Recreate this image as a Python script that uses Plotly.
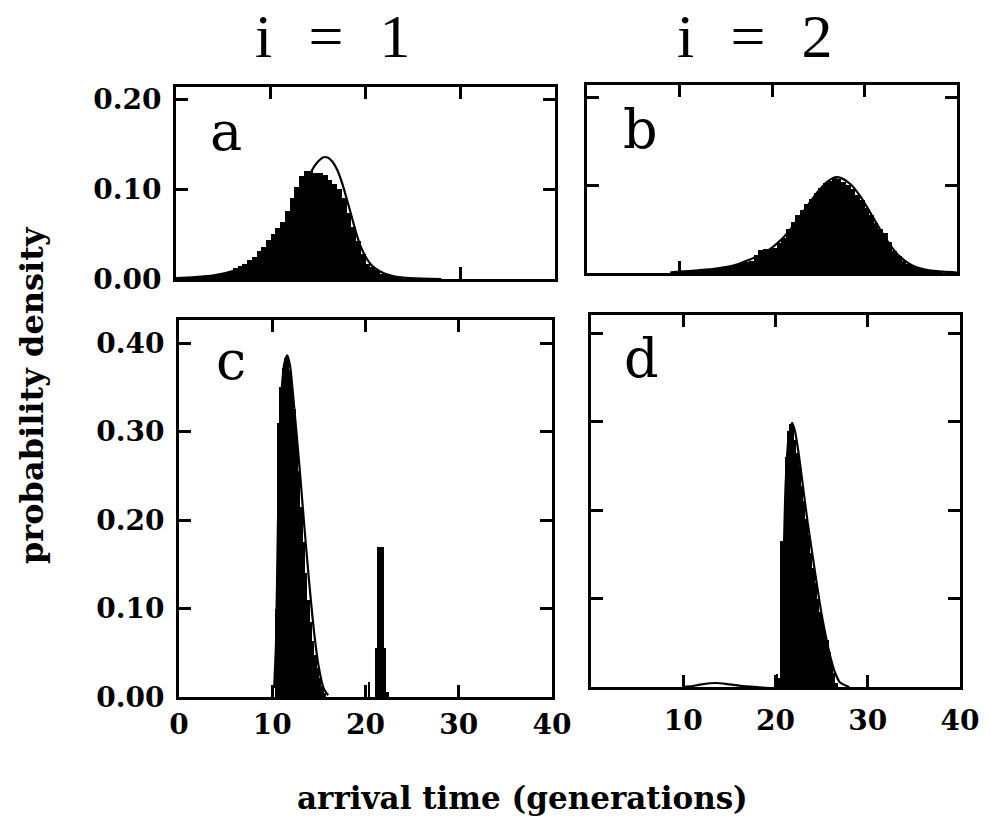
import plotly.graph_objects as go

W, H = 990, 823

# ---------------- data ----------------
# panel a (i = 1, top): histogram (bin width 0.5) and fitted curve
hist_a_x = [0.25, 0.75, 1.25, 1.75, 2.25, 2.75, 3.25, 3.75, 4.25, 4.75, 5.25, 5.75,
            6.25, 6.75, 7.25, 7.75, 8.25, 8.75, 9.25, 9.75, 10.25, 10.75, 11.25, 11.75,
            12.25, 12.75, 13.25, 13.75, 14.25, 14.75, 15.25, 15.75, 16.25, 16.75, 17.25, 17.75,
            18.25, 18.75, 19.25, 19.75, 20.25, 20.75, 21.25, 21.75, 22.25, 22.75, 23.25, 23.75]
hist_a_y = [0.001, 0.001, 0.0015, 0.002, 0.002, 0.003, 0.003, 0.004, 0.005, 0.006, 0.007, 0.009,
            0.012, 0.014, 0.017, 0.021, 0.025, 0.031, 0.036, 0.044, 0.050, 0.057, 0.064, 0.076,
            0.090, 0.102, 0.115, 0.120, 0.120, 0.118, 0.118, 0.116, 0.110, 0.106, 0.100, 0.090,
            0.074, 0.058, 0.042, 0.028, 0.017, 0.013, 0.010, 0.006, 0.004, 0.003, 0.002, 0.001]
curve_a_x = [0, 2, 4, 6, 8, 9, 10, 11, 12, 13, 14, 14.5, 15, 15.5, 16, 16.5, 17, 17.5,
             18, 18.5, 19, 19.5, 20, 20.5, 21, 22, 23, 24, 26, 28]
curve_a_y = [0.001, 0.002, 0.004, 0.009, 0.018, 0.026, 0.036, 0.048, 0.064, 0.085, 0.113, 0.124,
             0.131, 0.1355, 0.1355, 0.131, 0.122, 0.108, 0.090, 0.071, 0.052, 0.036, 0.025, 0.017,
             0.012, 0.006, 0.003, 0.0015, 0.0005, 0.0]

# panel b (i = 2, top)
hist_b_x = [10.25, 10.75, 11.25, 11.75, 12.25, 12.75, 13.25, 13.75, 14.25, 14.75, 15.25, 15.75,
            16.25, 16.75, 17.25, 17.75, 18.25, 18.75, 19.25, 19.75, 20.25, 20.75, 21.25, 21.75,
            22.25, 22.75, 23.25, 23.75, 24.25, 24.75, 25.25, 25.75, 26.25, 26.75, 27.25, 27.75,
            28.25, 28.75, 29.25, 29.75, 30.25, 30.75, 31.25, 31.75, 32.25, 32.75, 33.25, 33.75,
            34.25, 34.75, 35.25, 35.75, 36.25, 36.75, 37.25, 37.75, 38.25]
hist_b_y = [0.002, 0.002, 0.003, 0.003, 0.003, 0.004, 0.004, 0.005, 0.006, 0.007, 0.008, 0.009,
            0.010, 0.011, 0.012, 0.014, 0.020, 0.026, 0.027, 0.027, 0.028, 0.034, 0.040, 0.050,
            0.058, 0.066, 0.072, 0.078, 0.084, 0.091, 0.097, 0.102, 0.105, 0.108, 0.107, 0.104,
            0.100, 0.096, 0.089, 0.083, 0.074, 0.066, 0.057, 0.050, 0.045, 0.035, 0.025, 0.019,
            0.014, 0.010, 0.008, 0.006, 0.004, 0.003, 0.002, 0.002, 0.001]
curve_b_x = [9, 10, 12, 14, 16, 18, 19, 20, 21, 22, 23, 24, 25, 26, 26.8, 27.5, 28.5,
             29.5, 30.5, 31.5, 32.5, 33.5, 34.5, 35.5, 37, 38.5, 40]
curve_b_y = [0.0005, 0.0015, 0.003, 0.005, 0.009, 0.017, 0.022, 0.029, 0.038, 0.050, 0.064,
             0.079, 0.093, 0.104, 0.109, 0.108, 0.101, 0.088, 0.071, 0.053, 0.036, 0.022, 0.013,
             0.007, 0.003, 0.0015, 0.0005]

# panel c (i = 1, bottom): histogram (bin width 0.25) and curve
hist_c_x = [10.375, 10.625, 10.875, 11.125, 11.375, 11.625, 11.875, 12.125, 12.375, 12.625,
            12.875, 13.125, 13.375, 13.625, 13.875, 14.125, 14.375, 14.625, 14.875, 15.125,
            15.375, 15.625, 20.375, 21.125, 21.375, 21.625, 21.875, 22.125, 22.375]
hist_c_y = [0.10, 0.31, 0.35, 0.372, 0.383, 0.385, 0.37, 0.35, 0.325, 0.295,
            0.255, 0.215, 0.175, 0.14, 0.11, 0.085, 0.063, 0.047, 0.033, 0.021,
            0.012, 0.005, 0.017, 0.055, 0.17, 0.17, 0.17, 0.055, 0.006]
curve_c_x = [10.2, 10.4, 10.6, 10.8, 11.0, 11.3, 11.6, 11.9, 12.2, 12.5, 13.0, 13.5,
             14.0, 14.5, 15.0, 15.5, 16.0]
curve_c_y = [0.01, 0.06, 0.19, 0.29, 0.345, 0.377, 0.386, 0.375, 0.345, 0.31, 0.25, 0.185,
             0.125, 0.072, 0.033, 0.01, 0.002]

# panel d (i = 2, bottom)
hist_d_x = [20.125, 20.375, 20.625, 20.875, 21.125, 21.375, 21.625, 21.875, 22.125, 22.375,
            22.625, 22.875, 23.125, 23.375, 23.625, 23.875, 24.125, 24.375, 24.625, 24.875,
            25.125, 25.375, 25.625, 25.875, 26.125, 26.375, 26.625]
hist_d_y = [0.015, 0.01, 0.165, 0.165, 0.26, 0.29, 0.298, 0.295, 0.28, 0.265,
            0.25, 0.228, 0.21, 0.19, 0.172, 0.152, 0.135, 0.118, 0.10, 0.085,
            0.073, 0.063, 0.053, 0.04, 0.028, 0.016, 0.005]
curve_d_x = [10, 11, 12, 13.5, 15, 16.5, 18, 20.5, 20.7, 20.9, 21.1, 21.4, 21.8, 22.1, 22.5,
             23.0, 23.5, 24.0, 24.5, 25.0, 25.5, 26.0, 26.5, 27.0, 28]
curve_d_y = [0, 0.001, 0.003, 0.0045, 0.003, 0.001, 0, 0, 0.05, 0.15, 0.23, 0.28, 0.299, 0.29,
             0.265, 0.225, 0.185, 0.15, 0.115, 0.082, 0.055, 0.032, 0.015, 0.005, 0]

x_ticks = [0, 10, 20, 30, 40]
x_labels_c = ["0", "10", "20", "30", "40"]
x_labels_d = ["", "10", "20", "30", "40"]
y_ticks_top = [0, 0.1, 0.2]
y_labels_top = ["0.00", "0.10", "0.20"]
y_ticks_bot = [0, 0.1, 0.2, 0.3, 0.4]
y_labels_bot = ["0.00", "0.10", "0.20", "0.30", "0.40"]

col_titles = ["i\u2002\u200a=\u2002\u200a1", "i\u2002\u200a=\u2002\u200a2"]
panel_letters = ["a", "b", "c", "d"]
x_title = "arrival time (generations)"
y_title = "probability density"

# ---------------- figure ----------------
fig = go.Figure()

panels = [
    (hist_a_x, hist_a_y, 0.5, curve_a_x, curve_a_y, "x", "y"),
    (hist_b_x, hist_b_y, 0.5, curve_b_x, curve_b_y, "x2", "y2"),
    (hist_c_x, hist_c_y, 0.25, curve_c_x, curve_c_y, "x3", "y3"),
    (hist_d_x, hist_d_y, 0.25, curve_d_x, curve_d_y, "x4", "y4"),
]
for hx, hy, bw, cx, cy, xa, ya in panels:
    fig.add_trace(go.Bar(x=hx, y=hy, width=bw, marker=dict(color="black", line=dict(width=0)),
                         xaxis=xa, yaxis=ya, showlegend=False, hoverinfo="skip"))
    fig.add_trace(go.Scatter(x=cx, y=cy, mode="lines",
                             line=dict(color="black", width=2.2, shape="spline", smoothing=0.7),
                             xaxis=xa, yaxis=ya, showlegend=False, hoverinfo="skip"))

TEXT_FONT = "DejaVu Serif"
tick_font = dict(family=TEXT_FONT, size=28, color="black", weight="bold")


def ax(**kw):
    d = dict(showline=True, linecolor="black", linewidth=2.8, mirror="allticks",
             ticks="inside", ticklen=12, tickwidth=2.5, tickcolor="black",
             showgrid=False, zeroline=False, fixedrange=True, automargin=False,
             tickfont=tick_font)
    d.update(kw)
    return d


def dx(a, b):
    return [a / W, b / W]


def dy(top, bottom):
    return [1 - bottom / H, 1 - top / H]


fig.update_layout(
    width=W, height=H,
    margin=dict(l=0, r=0, t=0, b=0, pad=0, autoexpand=False),
    paper_bgcolor="white", plot_bgcolor="white",
    bargap=0, showlegend=False,
    xaxis=ax(domain=dx(176, 555), anchor="y", range=[0, 40], tickvals=x_ticks, showticklabels=False),
    yaxis=ax(domain=dy(87, 279), anchor="x", range=[0, 0.214], tickvals=y_ticks_top,
             ticktext=y_labels_top, ticklabelstandoff=6),
    xaxis2=ax(domain=dx(587, 957), anchor="y2", range=[0, 40], tickvals=x_ticks, showticklabels=False),
    yaxis2=ax(domain=dy(85, 273), anchor="x2", range=[0, 0.214], tickvals=y_ticks_top,
              showticklabels=False),
    xaxis3=ax(domain=dx(179, 552), anchor="y3", range=[0, 40], tickvals=x_ticks,
              ticktext=x_labels_c, ticklabelstandoff=0),
    yaxis3=ax(domain=dy(320, 697), anchor="x3", range=[0, 0.426], tickvals=y_ticks_bot,
              ticktext=y_labels_bot, ticklabelstandoff=6),
    xaxis4=ax(domain=dx(591, 960), anchor="y4", range=[0, 40], tickvals=x_ticks,
              ticktext=x_labels_d, ticklabelstandoff=6),
    yaxis4=ax(domain=dy(315, 687), anchor="x4", range=[0, 0.421], tickvals=y_ticks_bot,
              showticklabels=False),
)

ann = []
# column titles
for txt, cxp in zip(col_titles, [333, 755]):
    ann.append(dict(text=txt, x=cxp / W, y=1.0, xref="paper", yref="paper",
                    xanchor="center", yanchor="top", showarrow=False,
                    font=dict(family="Liberation Serif", size=62, color="black")))
# panel letters
for txt, (cxp, cyp) in zip(panel_letters, [(226, 131), (640, 129), (231, 361), (641, 358)]):
    ann.append(dict(text=txt, x=cxp / W, y=1 - cyp / H, xref="paper", yref="paper",
                    xanchor="center", yanchor="middle", showarrow=False,
                    font=dict(family="DejaVu Serif", size=54, color="black")))
# axis titles
ann.append(dict(text=x_title, x=522 / W, y=1 - 798 / H, xref="paper", yref="paper",
                xanchor="center", yanchor="middle", showarrow=False,
                font=dict(family=TEXT_FONT, size=31, color="black", weight="bold")))
ann.append(dict(text=y_title, x=32 / W, y=1 - 395 / H, xref="paper", yref="paper",
                xanchor="center", yanchor="middle", showarrow=False, textangle=-90,
                font=dict(family=TEXT_FONT, size=32, color="black", weight="bold")))
fig.update_layout(annotations=ann)

fig.write_html("out.html", config={"displayModeBar": False},
               post_script="document.body.style.margin='0px';document.body.style.padding='0px';")
